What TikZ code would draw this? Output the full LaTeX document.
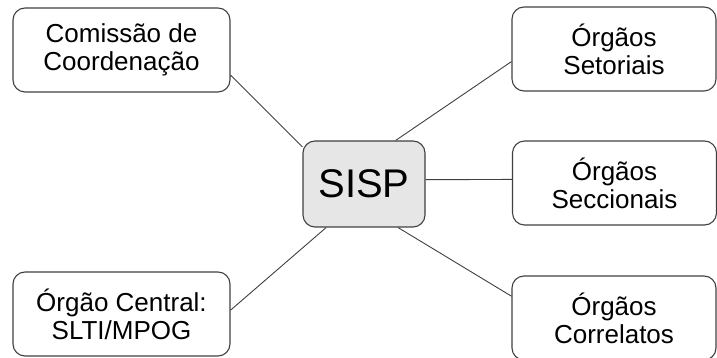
\documentclass[tikz,border=0pt]{standalone}
\usepackage{fontspec}
\setmainfont{Liberation Sans}
\usepackage{xcolor}
\usepackage{tikz}
\definecolor{hubgray}{HTML}{E6E6E6}
\definecolor{linegray}{HTML}{404040}

\begin{document}
\begin{tikzpicture}[x=1pt,y=1pt,
	box/.style={draw=linegray,line width=1.1pt,rounded corners=12pt,align=center,inner sep=0pt,
		minimum width=217pt,minimum height=84pt,font=\fontsize{26}{28}\selectfont},
	rbox/.style={box,minimum width=204pt},
	hub/.style={draw=linegray,line width=1.1pt,rounded corners=12pt,fill=hubgray,inner sep=0pt,
		minimum width=122pt,minimum height=86pt,font=\fontsize{40}{44}\selectfont},
	link/.style={draw=linegray,line width=0.9pt}]
	\useasboundingbox (0,0) rectangle (717,358);
	\node[hub] (sisp) at (364,174) {SISP};
	\node[box] (com) at (121.5,308) {Comissão de\\Coordenação};
	\node[box] (cen) at (121.5,44) {Órgão Central:\\SLTI/MPOG};
	\node[rbox] (set) at (614,309) {Órgãos\\Setoriais};
	\node[rbox] (sec) at (614.5,175) {Órgãos\\Seccionais};
	\node[rbox] (cor) at (614,40) {Órgãos\\Correlatos};
	\draw[link] (com.-13) -- (sisp.149);
	\draw[link] (sisp.54) -- (set.187);
	\draw[link] (sisp.4) -- (sec.178);
	\draw[link] (sisp.-52) -- (cor.168);
	\draw[link] (sisp.229) -- (cen.2);
\end{tikzpicture}
\end{document}
